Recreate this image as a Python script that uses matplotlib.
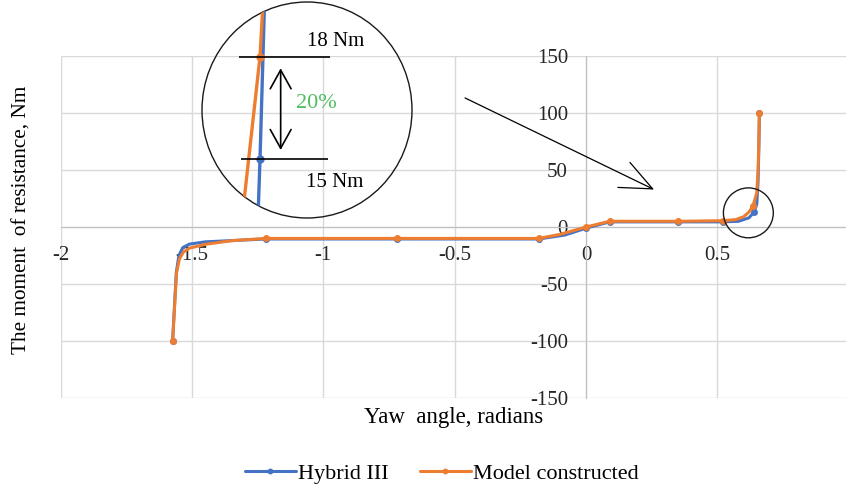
import matplotlib
matplotlib.use("Agg")
import matplotlib.pyplot as plt
from matplotlib.patches import Ellipse

plt.rcParams['font.family'] = ['Liberation Serif', 'DejaVu Serif']
plt.rcParams['axes.unicode_minus'] = False

BLUE = '#4472c4'
ORANGE = '#ed7d31'

# Hybrid III
hyb_x = [-1.574, -1.56, -1.55, -1.535, -1.51, -1.45, -1.22, -0.72, -0.18, -0.08, 0.0, 0.09,
         0.35, 0.52, 0.58, 0.62, 0.64, 0.65, 0.655, 0.658, 0.66]
hyb_y = [-100, -40, -25, -18, -15, -13, -10.5, -10.5, -10.5, -7, -1, 4.5,
         4.5, 4.5, 5, 8, 13, 20, 40, 70, 100]
hyb_marks = [0, 6, 7, 8, 10, 11, 12, 13, 16, 20]

# Model constructed
mod_x = [-1.574, -1.559, -1.548, -1.533, -1.51, -1.445, -1.35, -1.22, -0.72, -0.18, -0.1, 0.0,
         0.09, 0.35, 0.52, 0.57, 0.60, 0.62, 0.635, 0.65, 0.655, 0.658, 0.66]
mod_y = [-100, -40, -28, -22, -18.5, -15, -12, -10, -10, -10, -6.5, 0,
         5, 5, 5.5, 6.5, 9, 13, 18, 30, 50, 75, 100]
mod_marks = [0, 7, 8, 9, 11, 12, 13, 14, 18, 22]

x_ticks = [-2, -1.5, -1, -0.5, 0, 0.5, 1]
x_labels = ['-2', '-1.5', '-1', '-0.5', '0', '0.5', '1']
y_ticks = [-150, -100, -50, 0, 50, 100, 150]

# zoomed view in the big circle
ins_hyb_x = [0.63517, 0.63463, 0.63437]
ins_hyb_y = [19.8, 15.0, 13.08]
ins_mod_x = [0.63502, 0.63463, 0.63250]
ins_mod_y = [19.8, 18.0, 13.08]

fig = plt.figure(figsize=(8.46, 4.86), dpi=100)
W, H = 846, 486
ax = fig.add_axes([60.7 / W, 1 - 398.3 / H, 788.0 / W, 342.6 / H])

ax.plot(hyb_x, hyb_y, color=BLUE, lw=2.2, marker='o', ms=4, markevery=hyb_marks,
        label='Hybrid III', solid_capstyle='round', zorder=3)
ax.plot(mod_x, mod_y, color=ORANGE, lw=2.2, marker='o', ms=4, markevery=mod_marks,
        label='Model constructed', solid_capstyle='round', zorder=4)

ax.set_xlim(-2, 1)
ax.set_ylim(-150, 150)
ax.set_xticks(x_ticks)
ax.set_xticklabels(x_labels)
ax.set_yticks(y_ticks)
ax.grid(True, color='#d9d9d9', lw=1)
ax.set_axisbelow(True)
for s in ['top', 'right']:
    ax.spines[s].set_visible(False)
ax.spines['left'].set_position(('data', 0))
ax.spines['bottom'].set_position(('data', 0))
ax.spines['left'].set_color('#bfbfbf')
ax.spines['bottom'].set_color('#bfbfbf')
ax.tick_params(axis='both', length=0, labelsize=15, labelcolor='#262626')
ax.tick_params(axis='x', pad=14)
ax.tick_params(axis='y', pad=13)

fig.text(454 / W, 1 - 418 / H, 'Yaw  angle, radians', ha='center', va='center', fontsize=16.5)
fig.text(21.7 / W, 1 - 220 / H, 'The moment  of resistance, Nm', ha='center', va='center',
         rotation=90, fontsize=15.3)

fig.legend(loc='center', bbox_to_anchor=(441.7 / W, 1 - 473.3 / H), ncol=2, frameon=False,
           fontsize=16, handlelength=2.3, handletextpad=0.1, columnspacing=1.4,
           markerscale=0.8)

# arrow and small circle around the knee
ax.annotate('', xy=(0.259, 32.8), xytext=(-0.4606, 113),
            arrowprops=dict(arrowstyle='->,head_length=1.15,head_width=0.5',
                            mutation_scale=20, color='black', lw=0.9,
                            shrinkA=0, shrinkB=0), annotation_clip=False)
ax.add_patch(Ellipse((0.618, 12.4), 0.19, 43.7, fill=False, ec='#1a1a1a', lw=1,
                     clip_on=False, zorder=6))

# big circle with the zoomed view
ins = fig.add_axes([202 / W, 1 - 218 / H, 210 / W, 216 / H])
ins.set_xlim(0.628, 0.652)
ins.set_ylim(13.28, 19.6)
ins.axis('off')
ring = Ellipse((0.5, 0.5), 1, 1, transform=ins.transAxes, fill=False, ec='#1a1a1a',
               lw=1, clip_on=False)
ins.add_patch(ring)
lb, = ins.plot(ins_hyb_x, ins_hyb_y, color=BLUE, lw=2.4, marker='o', ms=5, markevery=[1])
lo, = ins.plot(ins_mod_x, ins_mod_y, color=ORANGE, lw=2.4, marker='o', ms=5, markevery=[1])
lb.set_clip_path(ring)
lo.set_clip_path(ring)
ins.hlines(18, 0.63226, 0.64263, color='black', lw=1.2)
ins.hlines(15, 0.63246, 0.6424, color='black', lw=1.2)
ins.annotate('', xy=(0.63699, 15.27), xytext=(0.63699, 17.66),
             arrowprops=dict(arrowstyle='<->,head_length=0.9,head_width=0.5',
                             mutation_scale=15, color='black', lw=1.2,
                             shrinkA=0, shrinkB=0))
ins.text(0.64111, 16.62, '20%', color='#4dbd5f', fontsize=16, ha='center', va='center')
ins.text(0.64328, 18.44, '18 Nm', fontsize=15, ha='center', va='center')
ins.text(0.6432, 14.32, '15 Nm', fontsize=15, ha='center', va='center')

fig.savefig('out.png', dpi=100)
